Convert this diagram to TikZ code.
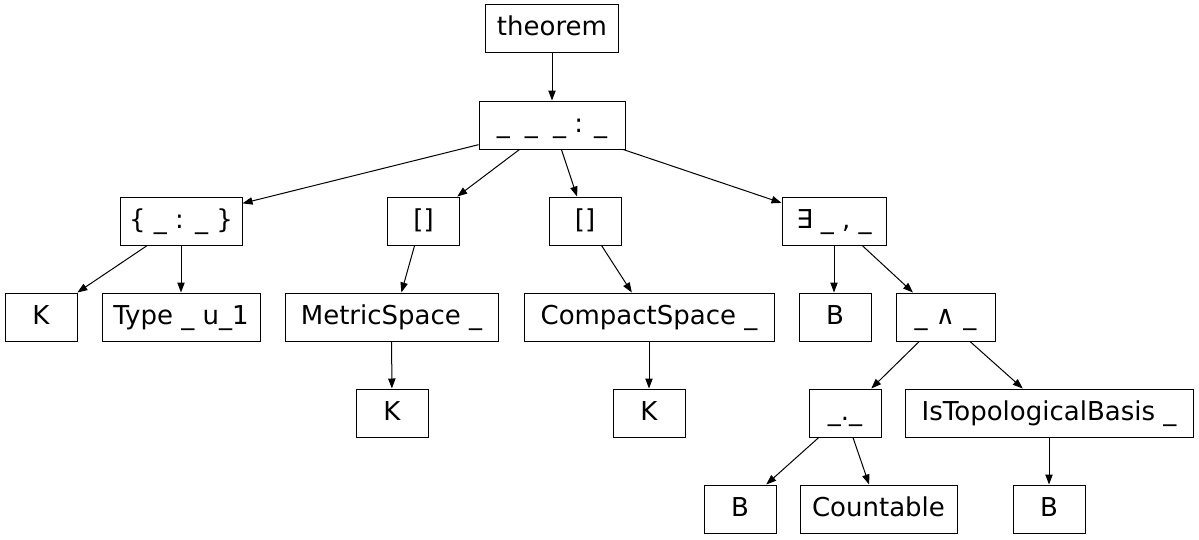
\documentclass[tikz,border=0pt]{standalone}
\usepackage{fontspec}
\setmainfont{DejaVu Sans}
\usetikzlibrary{arrows.meta}
\tikzset{
  box/.style={draw, line width=0.75pt, minimum height=36pt, inner sep=0pt,
    text height=14.5pt, text depth=3.3pt},
  edge/.style={-{Triangle[length=7.5pt,width=5.5pt]}, line width=0.75pt}
}
\newcommand{\wgap}{\hspace{11.4pt}}
\begin{document}
\begin{tikzpicture}[x=0.75pt, y=-0.75pt, font=\fontsize{19.5}{22}\selectfont]
    \useasboundingbox (0,0) rectangle (1199,539);

    % Levels 0 and 1
    \node[box, minimum width=99.75pt] (thm) at (552,28.5) {theorem};
    \node[box, minimum width=109.5pt] (typed) at (552,125) {\_\wgap\_\wgap\_ : \_};

    % Level 2
    \node[box, minimum width=91.5pt] (ann) at (181,221) {\{ \_ : \_ \}};
    \node[box, minimum width=54pt] (lstA) at (423.5,221) {[]};
    \node[box, minimum width=54pt] (lstB) at (585,221) {[]};
    \node[box, minimum width=78pt] (ex) at (834,221) {∃ \_ , \_};

    % Level 3
    \node[box, minimum width=54pt] (kA) at (41,317) {K};
    \node[box, minimum width=118.5pt] (univ) at (181,317) {Type \_ u\_1};
    \node[box, minimum width=159.75pt] (metric) at (391.5,317) {MetricSpace \_};
    \node[box, minimum width=187.5pt] (compact) at (649,317) {CompactSpace \_};
    \node[box, minimum width=54pt] (bA) at (835,317) {B};
    \node[box, minimum width=74.25pt] (conj) at (945.5,317) {\_ ∧ \_};

    % Level 4
    \node[box, minimum width=54pt] (kB) at (392,413) {K};
    \node[box, minimum width=54pt] (kC) at (649,413) {K};
    \node[box, minimum width=54pt] (dot) at (845,413) {\_.\_};
    \node[box, minimum width=216pt] (basis) at (1049,413) {IsTopologicalBasis \_};

    % Level 5
    \node[box, minimum width=54pt] (bB) at (740,509) {B};
    \node[box, minimum width=117.75pt] (count) at (878.5,509) {Countable};
    \node[box, minimum width=54pt] (bC) at (1049,509) {B};

    % Edges
    \draw[edge] (thm) -- (typed);
    \draw[edge] (typed.195.5) -- (ann.16);
    \draw[edge] (typed.217) -- (lstA.36);
    \draw[edge] (typed.291) -- (lstB.108);
    \draw[edge] (typed.341) -- (ex.161);
    \draw[edge] (ann.216) -- (kA.34);
    \draw[edge] (ann) -- (univ);
    \draw[edge] (lstA.250.5) -- (metric.68.4);
    \draw[edge] (lstB.304) -- (compact.125.3);
    \draw[edge] (ex.south) -- (bA.north -| ex.south);
    \draw[edge] (ex.319.4) -- (conj.143.6);
    \draw[edge] (metric) -- (kB);
    \draw[edge] (compact) -- (kC);
    \draw[edge] (conj.223) -- (dot.43.8);
    \draw[edge] (conj.315.6) -- (basis.137.3);
    \draw[edge] (dot.223.8) -- (bB.43.8);
    \draw[edge] (dot.288.4) -- (count.111.6);
    \draw[edge] (basis) -- (bC);
\end{tikzpicture}
\end{document}
